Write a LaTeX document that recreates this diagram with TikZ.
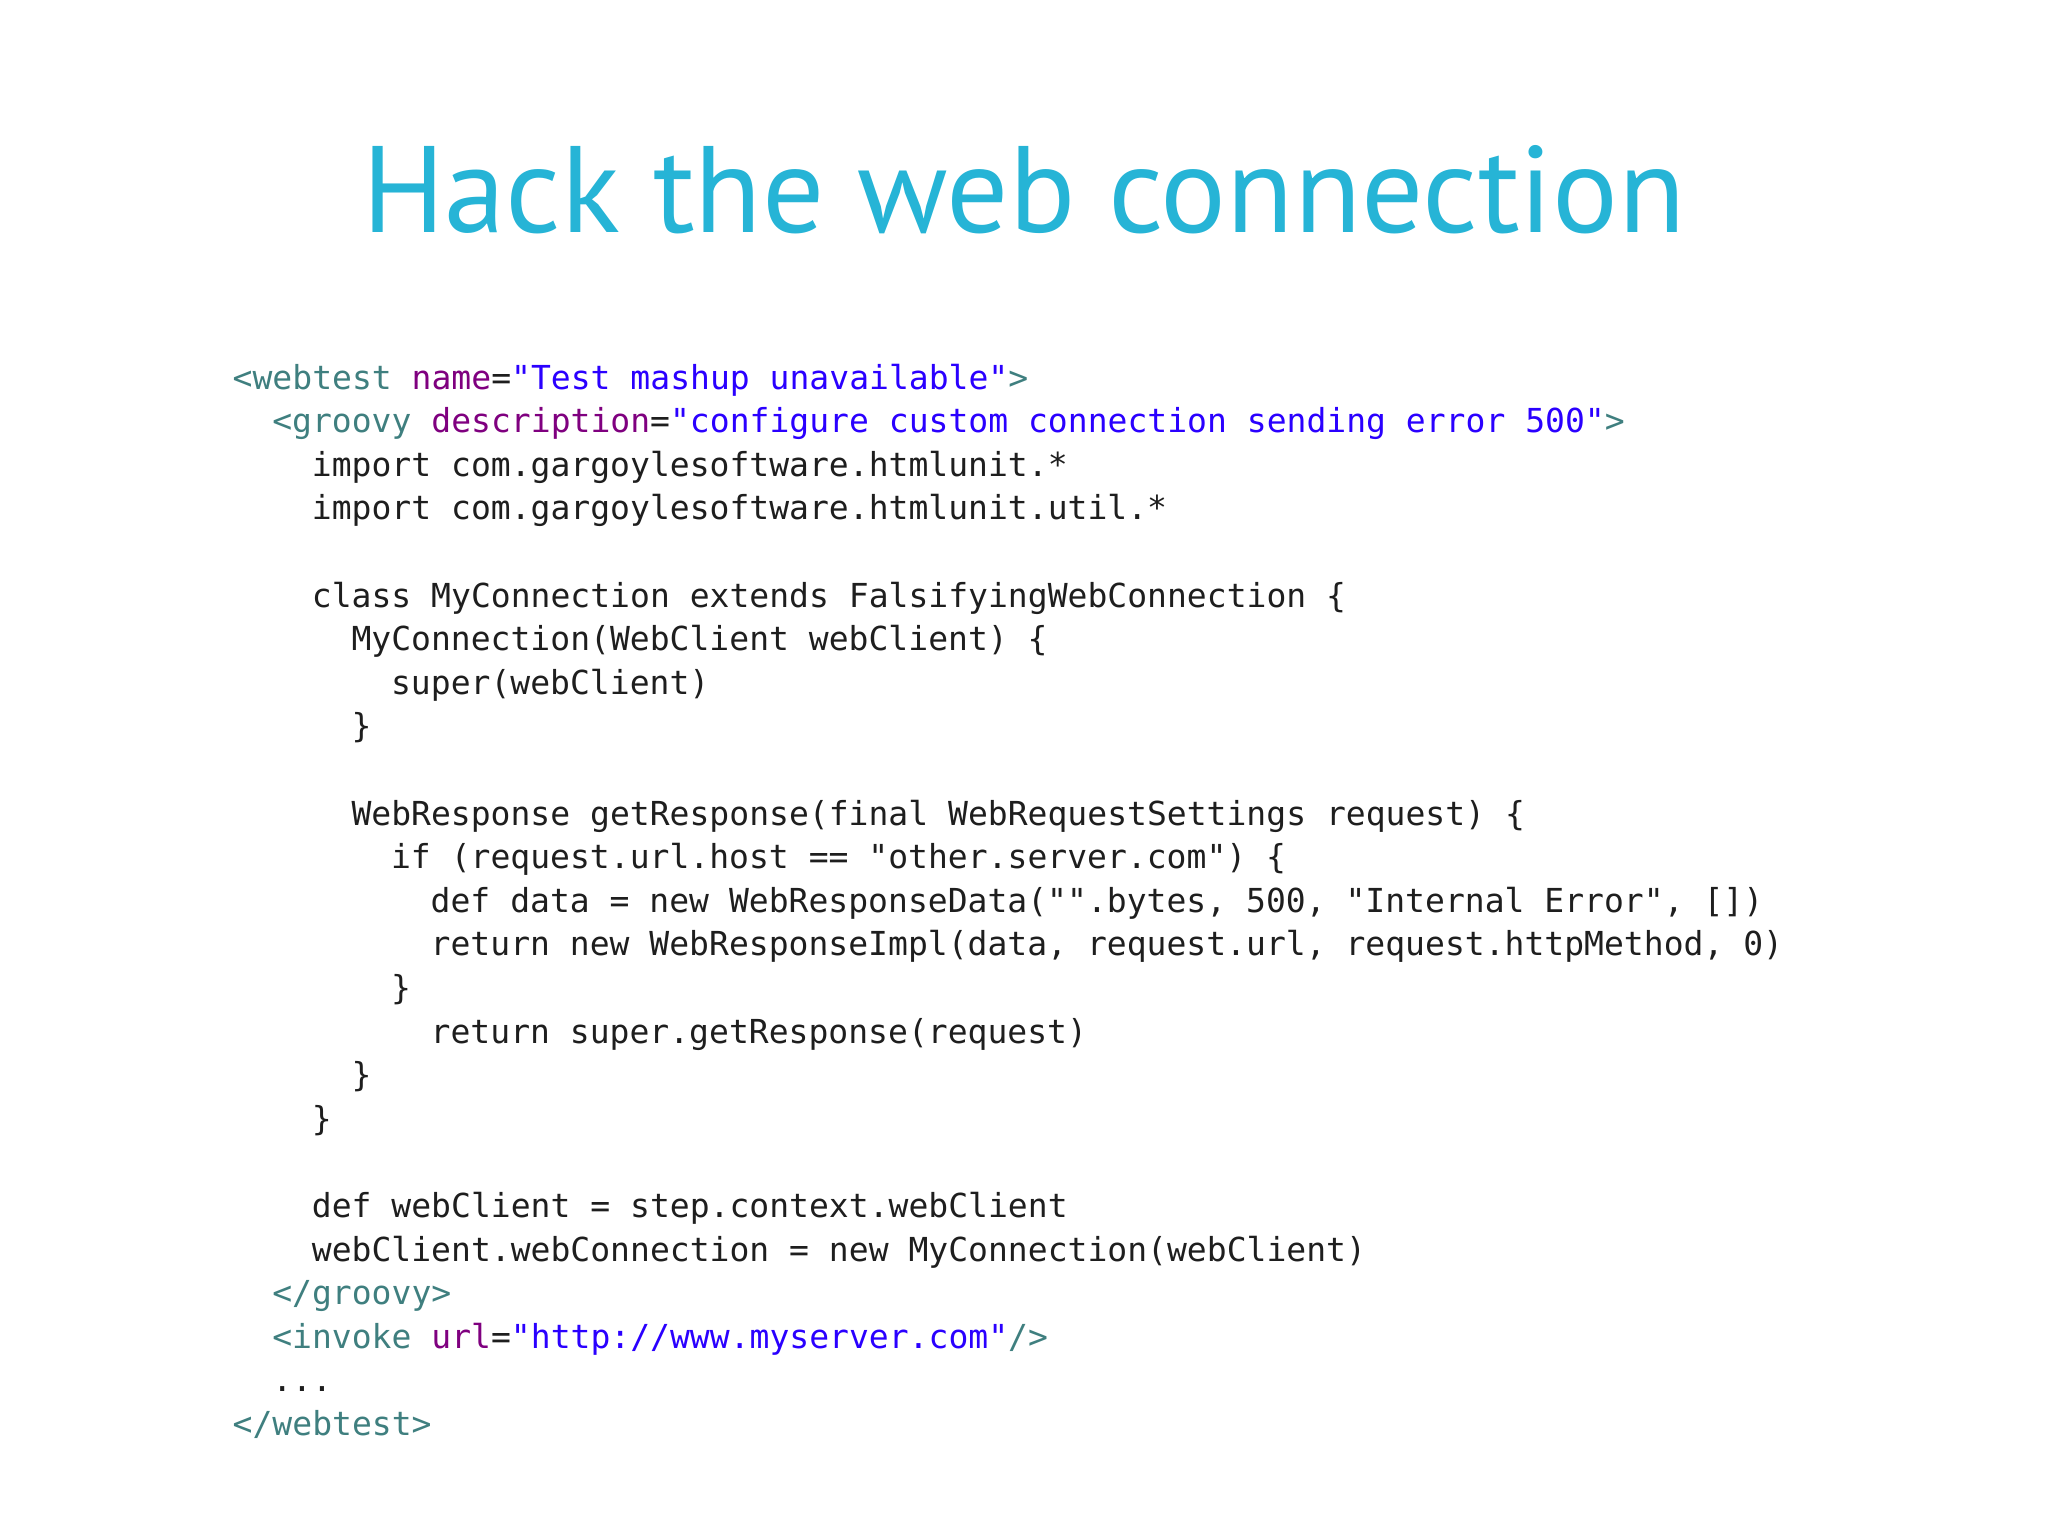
\documentclass[tikz,border=0pt]{standalone}
\usepackage{fontspec}
\usepackage{tikz}
\usetikzlibrary{positioning}
\setmainfont{PT Sans}
\newfontfamily\codefont{DejaVu Sans Mono}
\definecolor{titleblue}{RGB}{38,180,214}
\definecolor{xtag}{RGB}{63,127,127}
\definecolor{xattr}{RGB}{127,0,127}
\definecolor{xval}{RGB}{42,0,255}
\definecolor{code}{RGB}{30,30,30}
\newcommand{\tg}[1]{\textcolor{xtag}{#1}}
\newcommand{\at}[1]{\textcolor{xattr}{#1}}
\newcommand{\vl}[1]{\textcolor{xval}{#1}}
\newcommand{\ind}[1]{\hspace*{#1\dimexpr 0.198cm\relax}}

\begin{document}
\begin{tikzpicture}
\tikzstyle{title}=[anchor=base, text=titleblue, font=\fontsize{35}{40}\selectfont]
\tikzstyle{line}=[anchor=base west, inner sep=0pt, text=code, font=\codefont\fontsize{9.4}{11}\selectfont]

\useasboundingbox (0,0) rectangle (20.48,-15.35);

	\node[title] (head) at (10.24,-2.32) {Hack the web connection};

	\node[line] (l0) at (2.32,-3.89) {\tg{<webtest} \at{name}=\vl{"Test mashup unavailable"}\tg{>}};
	\node[line] (l1) at (2.32,-4.326) {\ind{2}\tg{<groovy} \at{description}=\vl{"configure custom connection sending error 500"}\tg{>}};
	\node[line] (l2) at (2.32,-4.762) {\ind{4}import com.gargoylesoftware.htmlunit.*};
	\node[line] (l3) at (2.32,-5.198) {\ind{4}import com.gargoylesoftware.htmlunit.util.*};

	\node[line] (l5) at (2.32,-6.07) {\ind{4}class MyConnection extends FalsifyingWebConnection \{};
	\node[line] (l6) at (2.32,-6.506) {\ind{6}MyConnection(WebClient webClient) \{};
	\node[line] (l7) at (2.32,-6.942) {\ind{8}super(webClient)};
	\node[line] (l8) at (2.32,-7.378) {\ind{6}\}};

	\node[line] (l10) at (2.32,-8.25) {\ind{6}WebResponse getResponse(final WebRequestSettings request) \{};
	\node[line] (l11) at (2.32,-8.686) {\ind{8}if (request.url.host == "other.server.com") \{};
	\node[line] (l12) at (2.32,-9.122) {\ind{10}def data = new WebResponseData("".bytes, 500, "Internal Error", [])};
	\node[line] (l13) at (2.32,-9.558) {\ind{10}return new WebResponseImpl(data, request.url, request.httpMethod, 0)};
	\node[line] (l14) at (2.32,-9.994) {\ind{8}\}};
	\node[line] (l15) at (2.32,-10.43) {\ind{10}return super.getResponse(request)};
	\node[line] (l16) at (2.32,-10.866) {\ind{6}\}};
	\node[line] (l17) at (2.32,-11.302) {\ind{4}\}};

	\node[line] (l19) at (2.32,-12.174) {\ind{4}def webClient = step.context.webClient};
	\node[line] (l20) at (2.32,-12.61) {\ind{4}webClient.webConnection = new MyConnection(webClient)};
	\node[line] (l21) at (2.32,-13.046) {\ind{2}\tg{</groovy>}};
	\node[line] (l22) at (2.32,-13.482) {\ind{2}\tg{<invoke} \at{url}=\vl{"http://www.myserver.com"}\tg{/>}};
	\node[line] (l23) at (2.32,-13.918) {\ind{2}...};
	\node[line] (l24) at (2.32,-14.354) {\tg{</webtest>}};

\end{tikzpicture}
\end{document}
